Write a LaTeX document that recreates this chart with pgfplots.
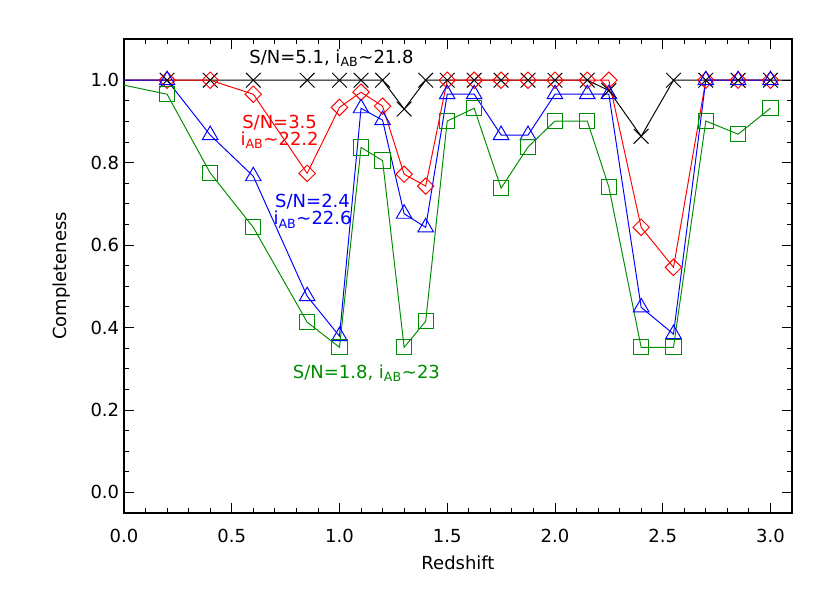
\documentclass[border=0pt]{standalone}
\usepackage{pgfplots}
\pgfplotsset{compat=1.18}
\usepackage{fontspec}
\setmainfont{DejaVu Sans}
\definecolor{idlgreen}{RGB}{0,140,0}
\newcommand{\lbl}{\fontsize{13}{11}\selectfont}
\begin{document}
\begin{tikzpicture}
\useasboundingbox (-1.24in,-0.80in) rectangle (7.06in,5.13in);
\begin{axis}[
at={(0,0)}, anchor=south west,
width=6.68in, height=4.74in, scale only axis,
xmin=0, xmax=3.1, ymin=-0.05, ymax=1.1,
xtick={0,0.5,1,1.5,2,2.5,3},
ytick={0,0.2,0.4,0.6,0.8,1},
minor x tick num=4, minor y tick num=3,
major tick length=0.1in, minor tick length=0.05in,
tick align=inside,
axis line style={line width=0.8pt},
every tick/.style={black, line width=0.6pt},
/pgf/number format/assume math mode=true,
/pgf/number format/fixed, /pgf/number format/fixed zerofill, /pgf/number format/precision=1,
tick label style={font=\lbl},
x tick label style={yshift=-8pt},
xlabel={Redshift}, ylabel={Completeness},
label style={font=\lbl},
xlabel style={at={(axis description cs:0.5,-0.105)}, anchor=center},
ylabel style={at={(axis description cs:-0.093,0.5)}, anchor=center, rotate=0},
]
% S/N=5.1
\addplot[black, line width=0.7pt, mark=x, mark size=7.5pt, mark indices={2,...,22}] coordinates {
(0,1) (0.2,1) (0.4,1) (0.6,1) (0.85,1) (1.0,1) (1.1,1) (1.2,1) (1.3,0.93) (1.4,1)
(1.5,1) (1.625,1) (1.75,1) (1.875,1) (2.0,1) (2.15,1) (2.25,0.975) (2.4,0.864)
(2.55,1) (2.7,1) (2.85,1) (3.0,1) (3.1,1)};
% S/N=3.5
\addplot[red, line width=0.7pt, mark=square, mark size=4.2pt, mark options={rotate=45}, mark indices={2,...,22}] coordinates {
(0,1) (0.2,1) (0.4,1) (0.6,0.966) (0.85,0.774) (1.0,0.934) (1.1,0.971) (1.2,0.937)
(1.3,0.772) (1.4,0.743) (1.5,1) (1.625,1) (1.75,1) (1.875,1) (2.0,1) (2.15,1)
(2.25,1) (2.4,0.643) (2.55,0.546) (2.7,1) (2.85,1) (3.0,1)};
% S/N=2.4
\addplot[blue, line width=0.7pt, mark=triangle, mark size=6.5pt, mark indices={2,...,22}] coordinates {
(0,1) (0.2,1) (0.4,0.867) (0.6,0.767) (0.85,0.476) (1.0,0.379) (1.1,0.932) (1.2,0.903)
(1.3,0.676) (1.4,0.643) (1.5,0.966) (1.625,0.966) (1.75,0.867) (1.875,0.867) (2.0,0.966)
(2.15,0.966) (2.25,0.966) (2.4,0.449) (2.55,0.384) (2.7,1) (2.85,1) (3.0,1)};
% S/N=1.8
\addplot[idlgreen, line width=0.7pt, mark=square, mark size=5.5pt, mark indices={2,...,22}] coordinates {
(0,0.988) (0.2,0.966) (0.4,0.775) (0.6,0.643) (0.85,0.413) (1.0,0.352) (1.1,0.837)
(1.2,0.805) (1.3,0.352) (1.4,0.415) (1.5,0.901) (1.625,0.932) (1.75,0.738) (1.875,0.838)
(2.0,0.901) (2.15,0.901) (2.25,0.741) (2.4,0.352) (2.55,0.352) (2.7,0.901) (2.85,0.869)
(3.0,0.932)};
\node[black, font=\lbl] at (axis cs:0.963,1.053) {S/N=5.1, i\textsubscript{AB}∼21.8};
\node[red, font=\lbl, align=center] at (axis cs:0.722,0.874) {S/N=3.5\\i\textsubscript{AB}∼22.2};
\node[blue, font=\lbl, align=center] at (axis cs:0.875,0.682) {S/N=2.4\\i\textsubscript{AB}∼22.6};
\node[idlgreen, font=\lbl] at (axis cs:1.125,0.289) {S/N=1.8, i\textsubscript{AB}∼23};
\end{axis}
\end{tikzpicture}
\end{document}
